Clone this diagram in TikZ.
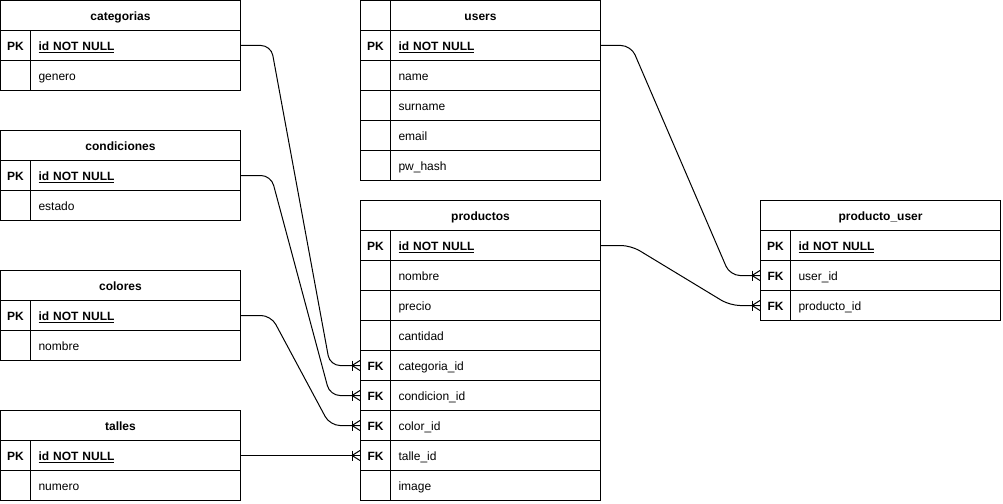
\documentclass[tikz,border=0pt]{standalone}
\usepackage{fontspec}
\setmainfont{Liberation Sans}
\usetikzlibrary{calc}
\tikzset{
  cell/.style={draw=black, line width=1pt, minimum height=30pt, inner sep=0pt, text height=11.5pt, text depth=1.5pt},
  keycell/.style={cell, minimum width=30pt, align=center, font=\fontsize{12}{14}\selectfont\bfseries},
  fieldcell/.style={cell, text width=194pt, inner xsep=8pt, align=left},
  headcell/.style={cell, minimum width=240pt, align=center, font=\fontsize{12}{14}\selectfont\bfseries},
  rel/.style={draw=black, line width=1pt, rounded corners=10pt},
  foot/.style={draw=black, line width=1pt},
}
\newcommand\erhead[4]{\node[headcell] (#1) at (#2+120,#3+15) {#4};}
\newcommand\errow[5]{%
  \node[keycell] (#1k) at (#2+15,#3+15) {#4};
  \node[fieldcell] (#1) at (#2+135,#3+15) {#5};}
\newcommand\pkid{\underline{\textbf{id NOT NULL}}}
\newcommand\crowfoot[1]{%
  \draw[foot] ($(#1.west)+(-8,-5)$) -- ($(#1.west)+(-8,5)$);
  \draw[foot] ($(#1.west)+(0,-5)$) -- ($(#1.west)+(-8,0)$) -- ($(#1.west)+(0,5)$);
  \draw[foot] ($(#1.west)+(-8,0)$) -- (#1.west);}
\begin{document}
\begin{tikzpicture}[x=1pt,y=-1pt,font=\fontsize{12}{14}\selectfont]
\useasboundingbox (-0.5,-0.5) rectangle (1002.5,502.5);
% categorias
\erhead{cath}{0}{0}{categorias}
\errow{catid}{0}{30}{PK}{\pkid}
\errow{catgen}{0}{60}{}{genero}
% condiciones
\erhead{conh}{0}{130}{condiciones}
\errow{conid}{0}{160}{PK}{\pkid}
\errow{conest}{0}{190}{}{estado}
% colores
\erhead{colh}{0}{270}{colores}
\errow{colid}{0}{300}{PK}{\pkid}
\errow{colnom}{0}{330}{}{nombre}
% talles
\erhead{talh}{0}{410}{talles}
\errow{talid}{0}{440}{PK}{\pkid}
\errow{talnum}{0}{470}{}{numero}
% users
\erhead{ush}{360}{0}{users}
\draw[foot] (390,0) -- (390,30);
\errow{usid}{360}{30}{PK}{\pkid}
\errow{usname}{360}{60}{}{name}
\errow{ussur}{360}{90}{}{surname}
\errow{usmail}{360}{120}{}{email}
\errow{uspw}{360}{150}{}{pw\_hash}
% productos
\erhead{prh}{360}{200}{productos}
\errow{prid}{360}{230}{PK}{\pkid}
\errow{prnom}{360}{260}{}{nombre}
\errow{prpre}{360}{290}{}{precio}
\errow{prcan}{360}{320}{}{cantidad}
\errow{prcat}{360}{350}{FK}{categoria\_id}
\errow{prcon}{360}{380}{FK}{condicion\_id}
\errow{prcol}{360}{410}{FK}{color\_id}
\errow{prtal}{360}{440}{FK}{talle\_id}
\errow{primg}{360}{470}{}{image}
% producto_user
\erhead{puh}{760}{200}{producto\_user}
\errow{puid}{760}{230}{PK}{\pkid}
\errow{puus}{760}{260}{FK}{user\_id}
\errow{pupr}{760}{290}{FK}{producto\_id}
% relations
\draw[rel] (catid.east) -- ++(30,0) -- ($(prcatk.west)+(-30,0)$) -- (prcatk.west);
\draw[rel] (conid.east) -- ++(30,0) -- ($(prconk.west)+(-30,0)$) -- (prconk.west);
\draw[rel] (colid.east) -- ++(30,0) -- ($(prcolk.west)+(-30,0)$) -- (prcolk.west);
\draw[rel] (talid.east) -- (prtalk.west);
\draw[rel] (usid.east) -- ++(30,0) -- ($(puusk.west)+(-30,0)$) -- (puusk.west);
\draw[rel] (prid.east) -- ++(30,0) -- ($(puprk.west)+(-30,0)$) -- (puprk.west);
\crowfoot{prcatk}
\crowfoot{prconk}
\crowfoot{prcolk}
\crowfoot{prtalk}
\crowfoot{puusk}
\crowfoot{puprk}
\end{tikzpicture}
\end{document}
